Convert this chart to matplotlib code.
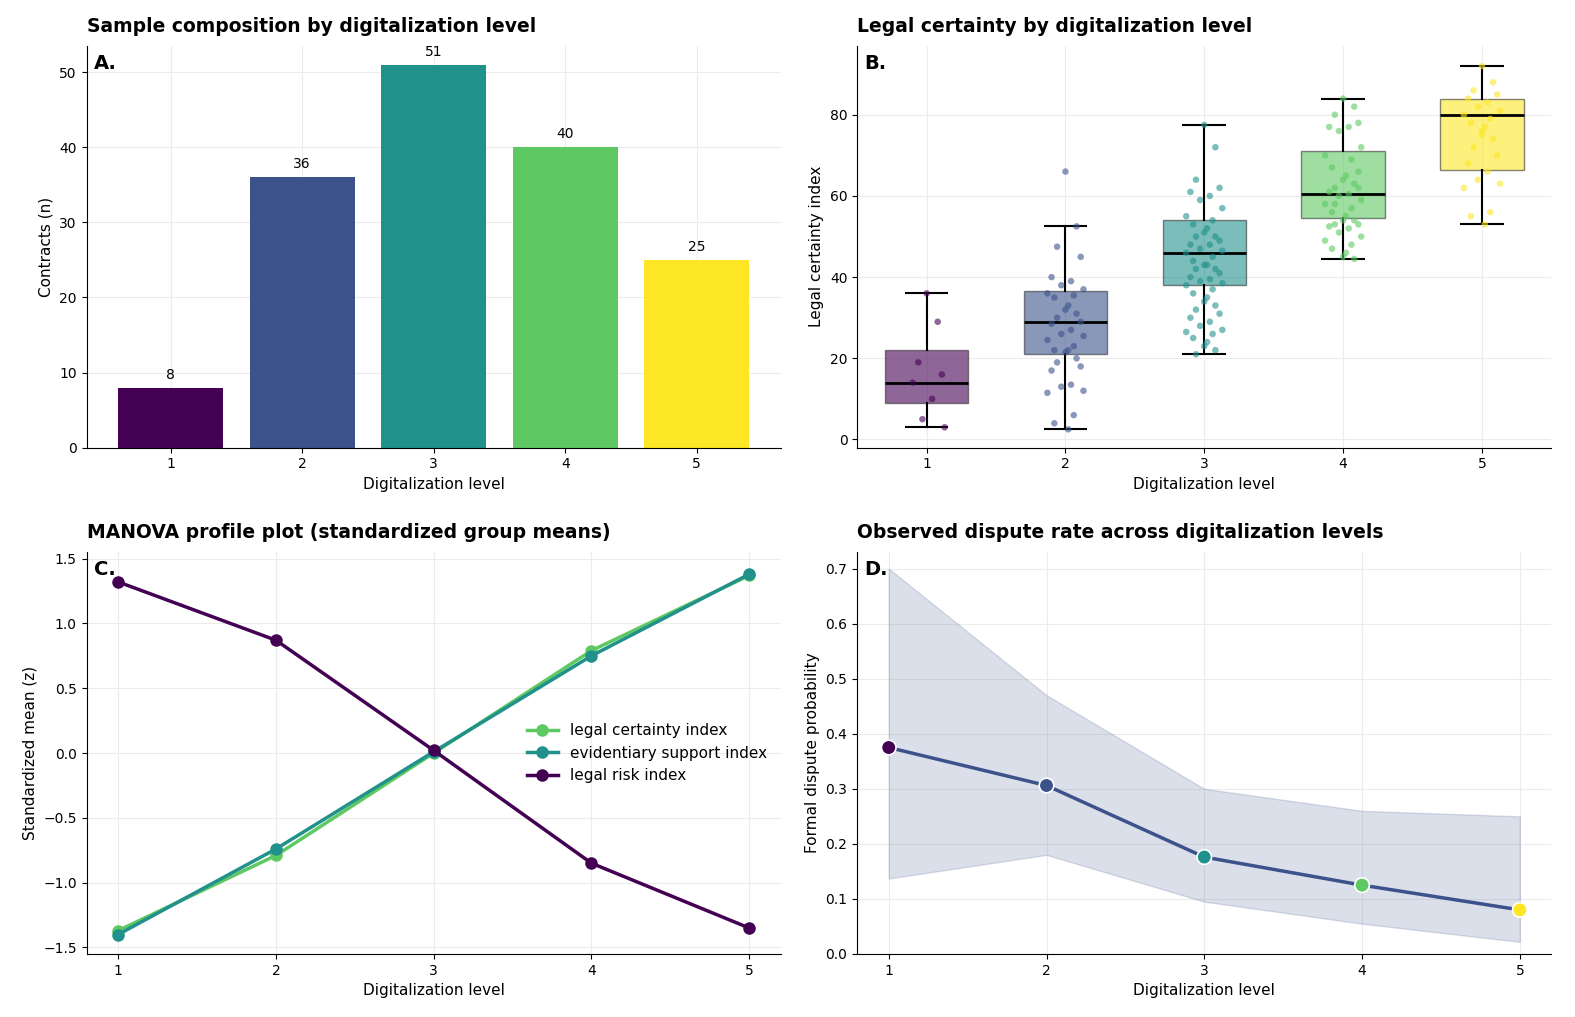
import matplotlib
matplotlib.use("Agg")
import matplotlib.pyplot as plt
import numpy as np

levels = [1, 2, 3, 4, 5]
colors = ["#440154", "#3b528b", "#21918c", "#5ec962", "#fde725"]
counts = [8, 36, 51, 40, 25]

g1 = [36, 29, 19, 16, 14, 10, 5, 3]
g2 = [66, 52.5, 47.5, 45, 40, 39, 38, 37, 36, 35.5, 35, 33, 32, 31, 30, 29, 28.5, 27, 26, 25.5,
      24.5, 23, 22, 22, 21.5, 20, 19, 18, 17, 13.5, 13, 12, 11.5, 6, 4, 2.5]
g3 = [77.5, 72, 64, 62, 61, 60, 59, 57, 55, 54, 53, 52, 51, 50, 50, 49, 48, 48, 47, 46.5, 46, 45,
      44, 43, 43, 42, 42, 41, 40, 39.5, 39, 38.5, 38, 37, 36, 35, 34, 33, 32, 31, 30, 29, 28, 27,
      26.5, 26, 25, 24, 23, 22, 21]
g4 = [84, 82, 80, 78, 77, 77, 76, 72, 70, 69, 67, 65, 64, 63, 62, 62, 61, 60.5, 60, 59, 58, 57, 56,
      55, 54, 54, 53, 53, 52.5, 52, 51, 50, 49, 48, 47, 46, 45, 44.5, 58, 66]
g5 = [92, 88, 86, 85, 84, 83, 82, 81, 80, 79, 78, 77, 76, 74, 72, 70, 68, 66, 64, 63, 62, 56, 55, 53, 75]
groups = [g1, g2, g3, g4, g5]

box_low = [3, 2.5, 21, 44.5, 53]
box_q1 = [9, 21, 38, 54.5, 66.5]
box_med = [14, 29, 46, 60.5, 80]
box_q3 = [22, 36.5, 54, 71, 84]
box_high = [36, 52.5, 77.5, 84, 92]

z_certainty = [-1.37, -0.79, 0.0, 0.79, 1.37]
z_evidence = [-1.40, -0.74, 0.01, 0.75, 1.38]
z_risk = [1.32, 0.87, 0.02, -0.85, -1.35]

rate = [0.375, 0.306, 0.176, 0.125, 0.08]
rate_lo = [0.137, 0.18, 0.095, 0.055, 0.022]
rate_hi = [0.70, 0.47, 0.30, 0.26, 0.25]

fig, axes = plt.subplots(2, 2, figsize=(15.75, 10.17), dpi=100)
for ax in axes.flat:
    ax.spines["top"].set_visible(False)
    ax.spines["right"].set_visible(False)
    ax.grid(True, color="#ececec", linewidth=0.8)
    ax.set_axisbelow(True)
    ax.tick_params(labelsize=10)

def title(ax, t, lab):
    ax.set_title(t, loc="left", fontsize=13.5, fontweight="bold", pad=10)
    ax.text(0.01, 0.98, lab, transform=ax.transAxes, fontsize=14, fontweight="bold", va="top")

# A
ax = axes[0, 0]
ax.bar(levels, counts, color=colors, width=0.8)
for x, c in zip(levels, counts):
    ax.text(x, c + 0.8, str(c), ha="center", va="bottom", fontsize=10)
ax.set_xticks(levels)
ax.set_ylim(0, 53.5)
ax.set_xlabel("Digitalization level", fontsize=11)
ax.set_ylabel("Contracts (n)", fontsize=11)
title(ax, "Sample composition by digitalization level", "A.")

# B
ax = axes[0, 1]
stats = [dict(whislo=a, q1=b, med=c, q3=d, whishi=e, fliers=[])
         for a, b, c, d, e in zip(box_low, box_q1, box_med, box_q3, box_high)]
bp = ax.bxp(stats, positions=levels, widths=0.6, patch_artist=True,
            medianprops=dict(color="black", linewidth=2),
            whiskerprops=dict(color="black", linewidth=1.5),
            capprops=dict(color="black", linewidth=1.5))
for patch, c in zip(bp["boxes"], colors):
    patch.set_facecolor(c); patch.set_alpha(0.6); patch.set_edgecolor("#333333")
pattern = [0.0, 0.08, -0.06, 0.11, -0.1, 0.04, -0.03, 0.13, -0.13, 0.06, -0.08, 0.02]
for x, g, c in zip(levels, groups, colors):
    xs = [x + pattern[i % len(pattern)] for i in range(len(g))]
    ax.scatter(xs, g, s=22, color=c, alpha=0.6, edgecolor="none", zorder=3)
ax.set_xticks(levels); ax.set_xticklabels([str(l) for l in levels])
ax.set_xlim(0.5, 5.5)
ax.set_ylim(-2, 97)
ax.set_xlabel("Digitalization level", fontsize=11)
ax.set_ylabel("Legal certainty index", fontsize=11)
title(ax, "Legal certainty by digitalization level", "B.")

# C
ax = axes[1, 0]
ax.plot(levels, z_certainty, "-o", color="#5ec962", lw=2.5, ms=8, label="legal certainty index")
ax.plot(levels, z_evidence, "-o", color="#21918c", lw=2.5, ms=8, label="evidentiary support index")
ax.plot(levels, z_risk, "-o", color="#440154", lw=2.5, ms=8, label="legal risk index")
ax.set_xticks(levels)
ax.set_ylim(-1.55, 1.55)
ax.legend(loc="center right", frameon=False, fontsize=11)
ax.set_xlabel("Digitalization level", fontsize=11)
ax.set_ylabel("Standardized mean (z)", fontsize=11)
title(ax, "MANOVA profile plot (standardized group means)", "C.")

# D
ax = axes[1, 1]
ax.fill_between(levels, rate_lo, rate_hi, color="#3b528b", alpha=0.18)
ax.plot(levels, rate, color="#3b528b", lw=2.5, zorder=3)
ax.scatter(levels, rate, c=colors, s=110, edgecolor="white", linewidth=1.2, zorder=4)
ax.set_xticks(levels)
ax.set_ylim(0, 0.73)
ax.set_xlabel("Digitalization level", fontsize=11)
ax.set_ylabel("Formal dispute probability", fontsize=11)
title(ax, "Observed dispute rate across digitalization levels", "D.")

fig.subplots_adjust(left=0.055, right=0.985, top=0.955, bottom=0.062, hspace=0.26, wspace=0.11)
fig.savefig("out.png")
